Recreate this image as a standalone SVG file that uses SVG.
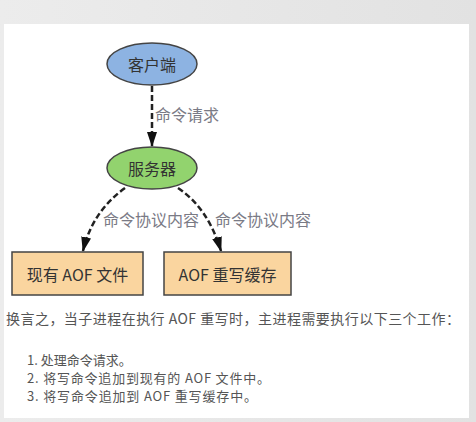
<svg xmlns="http://www.w3.org/2000/svg" width="476" height="422" viewBox="0 0 476 422">
<defs>
<linearGradient id="bg" x1="0" y1="0" x2="1" y2="0">
<stop offset="0" stop-color="#ececec"/>
<stop offset="1" stop-color="#e2e2e2"/>
</linearGradient>
<marker id="ah" viewBox="0 0 15 10" refX="14" refY="5" markerWidth="6" markerHeight="4" orient="auto" markerUnits="strokeWidth">
<path d="M0,0 L15,5 L0,10 z" fill="#111"/>
</marker>
<style>
.edge{fill:none;stroke:#222;stroke-width:2.5;stroke-dasharray:6,3;}
.node{stroke:#444;stroke-width:1.5;}
.nt{font-family:"Noto Sans CJK SC","Noto Sans",sans-serif;font-size:16px;fill:#333;text-anchor:middle;dominant-baseline:central;}
.el{font-family:"Liberation Serif","Noto Sans CJK SC",serif;font-size:16px;fill:#7a7a85;dominant-baseline:central;}
.p{font-family:"Noto Sans CJK SC","Noto Sans",sans-serif;font-size:14px;fill:#555;dominant-baseline:central;}
.li{font-family:"Noto Sans CJK SC","Noto Sans",sans-serif;font-size:13px;fill:#555;dominant-baseline:central;}
</style>
</defs>
<rect x="0" y="0" width="476" height="422" fill="url(#bg)"/>
<rect x="4" y="24" width="465" height="394" fill="#ffffff"/>
<g id="connectors">
<line class="edge" x1="152" y1="86" x2="152" y2="146" marker-end="url(#ah)"/>
<path class="edge" d="M125,188 Q92,212 83,251" marker-end="url(#ah)"/>
<path class="edge" d="M178,188 Q208,208 221,251" marker-end="url(#ah)"/>
<text class="el" x="155" y="115">命令请求</text>
<text class="el" x="103" y="220">命令协议内容</text>
<text class="el" x="215" y="220">命令协议内容</text>
</g>
<g id="client">
<ellipse class="node" cx="152" cy="64" rx="45" ry="21" fill="#8db3e2"/>
<text class="nt" x="152" y="64">客户端</text>
</g>
<g id="server">
<ellipse class="node" cx="152" cy="168" rx="45" ry="21" fill="#92d36e"/>
<text class="nt" x="152" y="168">服务器</text>
</g>
<g id="aof-file">
<rect class="node" x="12" y="252" width="131" height="43" fill="#fad59f"/>
<text class="nt" x="77.5" y="273.5">现有 AOF 文件</text>
</g>
<g id="aof-buffer">
<rect class="node" x="164" y="252" width="127" height="43" fill="#fad59f"/>
<text class="nt" x="227.5" y="273.5">AOF 重写缓存</text>
</g>
<g id="text">
<text class="p" x="6" y="318" textLength="454" lengthAdjust="spacing">换言之，当子进程在执行 AOF 重写时，主进程需要执行以下三个工作：</text>
<text class="li" x="27" y="359">1. 处理命令请求。</text>
<text class="li" x="27" y="377" textLength="243" lengthAdjust="spacing">2. 将写命令追加到现有的 AOF 文件中。</text>
<text class="li" x="27" y="395" textLength="230" lengthAdjust="spacing">3. 将写命令追加到 AOF 重写缓存中。</text>
</g>
</svg>
